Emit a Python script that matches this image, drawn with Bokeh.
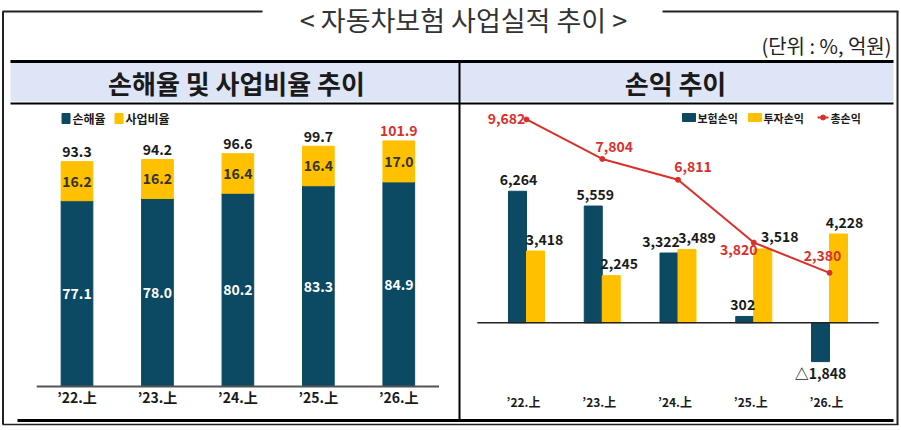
from bokeh.plotting import figure
from bokeh.models import Range1d
from bokeh.core.properties import value
from bokeh.embed import file_html
from bokeh.resources import INLINE

# ---- data ----
periods = ["’22.上", "’23.上", "’24.上", "’25.上", "’26.上"]

loss_ratio = [77.1, 78.0, 80.2, 83.3, 84.9]       # 손해율
expense_ratio = [16.2, 16.2, 16.4, 16.4, 17.0]    # 사업비율
combined_ratio = [93.3, 94.2, 96.6, 99.7, 101.9]  # 합산비율

uw_profit = [6264, 5559, 3322, 302, -1848]        # 보험손익
inv_profit = [3418, 2245, 3489, 3518, 4228]       # 투자손익
total_profit = [9682, 7804, 6811, 3820, 2380]     # 총손익

left_series = ["손해율", "사업비율"]
right_series = ["보험손익", "투자손익", "총손익"]

title = "< 자동차보험 사업실적 추이 >"
unit_note = "(단위 : %, 억원)"
left_title = "손해율 및 사업비율 추이"
right_title = "손익 추이"

# ---- style ----
FONT = value("Noto Sans CJK KR")
NAVY = "#0b4a62"
GOLD = "#ffc000"
RED = "#d9302c"
INK = "#1a1a1a"
BAND = "#dde5f6"

W, H = 900, 428

p = figure(width=W, height=H, x_range=Range1d(0, W), y_range=Range1d(H, 0),
           output_backend="svg", toolbar_location=None, min_border=0,
           x_axis_location=None, y_axis_location=None)
p.grid.visible = False
p.outline_line_color = None
p.background_fill_color = "white"
p.border_fill_color = "white"


def x_scale(px0, step):
    # category index -> pixel: px0 + step * i
    return Range1d(-px0 / step, (W - px0) / step)


def y_scale(base, k):
    # value -> pixel from top: base - k * v
    return Range1d((base - H) / k, base / k)


p.extra_x_ranges = {"lx": x_scale(76.5, 80.45), "rx": x_scale(526, 75.75)}
p.extra_y_ranges = {"ly": y_scale(386, 2.41), "ry": y_scale(322.3, 0.021)}
L = dict(x_range_name="lx", y_range_name="ly")
R = dict(x_range_name="rx", y_range_name="ry")

# ---- frame / header decoration (pixel space) ----
p.quad(left=10, right=893, top=62.5, bottom=101, color=BAND, line_color=None)
p.segment(x0=[2, 662], y0=[11, 11], x1=[262, 898], y1=[11, 11], line_color="#222", line_width=2)
p.segment(x0=[2.5, 897], y0=[11, 11], x1=[2.5, 897], y1=[424, 424], line_color="#222", line_width=2)
p.segment(x0=2, y0=424, x1=898, y1=424, line_color="#222", line_width=1.5)
p.segment(x0=10, y0=61, x1=893, y1=61, line_color="black", line_width=3)
p.segment(x0=10, y0=103, x1=893, y1=103, line_color="black", line_width=2)
p.segment(x0=459, y0=61, x1=459, y1=420, line_color="black", line_width=2)
p.segment(x0=17, y0=420, x1=893, y1=420, line_color="black", line_width=3)

p.text(x=[463], y=[19], text=[title], text_align="center", text_baseline="middle",
       text_font=FONT, text_font_size="27px", text_color="#333")
p.text(x=[891], y=[45], text=[unit_note], text_align="right", text_baseline="middle",
       text_font=FONT, text_font_size="20px", text_color="#222")
p.text(x=[236, 675], y=[82, 82], text=[left_title, right_title], text_align="center",
       text_baseline="middle", text_font=FONT, text_font_size="26px",
       text_font_style="bold", text_color=INK)

# ---- left chart: stacked ratios ----
idx = list(range(len(periods)))
stack_top = [a + b for a, b in zip(loss_ratio, expense_ratio)]
mid_loss = [a / 2 for a in loss_ratio]
mid_exp = [a + b / 2 for a, b in zip(loss_ratio, expense_ratio)]

p.vbar(x=idx, bottom=0, top=loss_ratio, width=0.394, color=NAVY, **L)
p.vbar(x=idx, bottom=loss_ratio, top=stack_top, width=0.394, color=GOLD, **L)
p.segment(x0=[-0.5], y0=[0], x1=[len(idx) - 0.5], y1=[0], line_color="#555", line_width=2, **L)

num = dict(text_align="center", text_baseline="middle", text_font=FONT,
           text_font_style="bold")
p.text(x=idx, y=mid_loss, text=[f"{v:.1f}" for v in loss_ratio],
       text_font_size="14px", text_color="white", **num, **L)
p.text(x=idx, y=mid_exp, text=[f"{v:.1f}" for v in expense_ratio],
       text_font_size="14px", text_color="#333", **num, **L)
p.text(x=idx, y=combined_ratio, text=[f"{v:.1f}" for v in combined_ratio],
       y_offset=-10, text_font_size="14px",
       text_color=[RED if v > 100 else INK for v in combined_ratio], **num, **L)
p.text(x=idx, y=[0] * len(idx), text=periods, y_offset=10,
       text_font_size="14px", text_color=INK, **num, **L)

# left legend
p.rect(x=[65.5, 118.5], y=[118, 118], width=8, height=10, color=[NAVY, GOLD])
p.text(x=[72, 125], y=[118, 118], text=left_series, text_align="left",
       text_baseline="middle", text_font=FONT, text_font_style="bold",
       text_font_size="12px", text_color=INK)

# ---- right chart: profit ----
bw = 0.2376
p.vbar(x=[i - bw / 2 for i in idx], bottom=0, top=uw_profit, width=bw, color=NAVY, **R)
p.vbar(x=[i + bw / 2 for i in idx], bottom=0, top=inv_profit, width=bw, color=GOLD, **R)
p.segment(x0=[-0.65], y0=[0], x1=[len(idx) - 0.35], y1=[0], line_color="#222", line_width=1.5, **R)
p.line(x=idx, y=total_profit, line_color=RED, line_width=2, **R)
p.scatter(x=idx, y=total_profit, size=5, color=RED, **R)


def fmt(v):
    return f"{v:,}" if v >= 0 else f"△{-v:,}"


# label nudges (px) to keep neighbouring labels apart
uw_dx = [1, 2, -8, -2, 0]
inv_dx = [9, 8, 10, 17, 6]
total_dx = [-20, 12, 15, -15, -7]
total_dy = [-1, -12, -13, 7, -17]

p.text(x=[i - bw / 2 for i in idx], y=uw_profit, text=[fmt(v) for v in uw_profit],
       x_offset=uw_dx, y_offset=[-12 if v >= 0 else 11 for v in uw_profit],
       text_font_size="14px", text_color=INK, **num, **R)
p.text(x=[i + bw / 2 for i in idx], y=inv_profit, text=[fmt(v) for v in inv_profit],
       x_offset=inv_dx, y_offset=-12, text_font_size="14px", text_color=INK, **num, **R)
p.text(x=idx, y=total_profit, text=[fmt(v) for v in total_profit],
       x_offset=total_dx, y_offset=total_dy, text_font_size="14px",
       text_color=RED, **num, **R)
p.text(x=idx, y=[0] * len(idx), text=periods, x_offset=-3, y_offset=79,
       text_font_size="12px", text_color=INK, **num, **R)

# right legend
p.rect(x=[688.5, 754.5], y=[117, 117], width=13, height=8, color=[NAVY, GOLD])
p.segment(x0=[817], y0=[117], x1=[828], y1=[117], line_color=RED, line_width=2)
p.scatter(x=[822.5], y=[117], size=5, color=RED)
p.text(x=[697, 763, 830], y=[117, 117, 117], text=right_series, text_align="left",
       text_baseline="middle", text_font=FONT, text_font_style="bold",
       text_font_size="11px", text_color=INK)

open("out.html", "w").write(file_html(p, INLINE))
